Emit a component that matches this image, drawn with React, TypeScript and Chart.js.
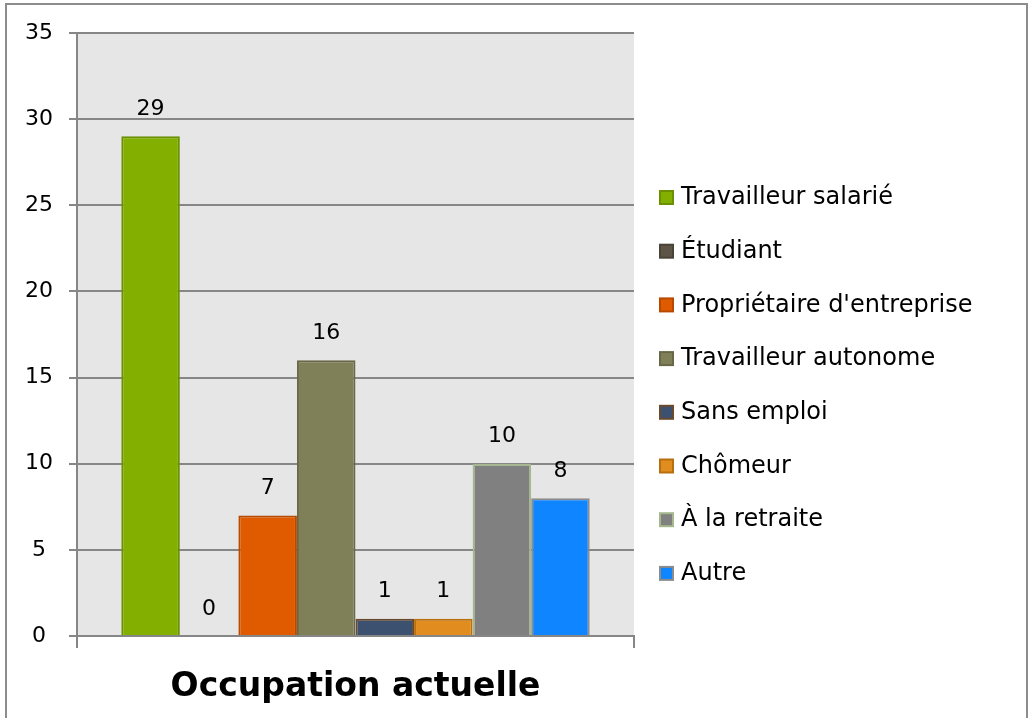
import React, { useEffect, useRef } from "react";
import { Chart, registerables } from "chart.js";

Chart.register(...registerables);

const categories = ["Occupation actuelle"];
const seriesNames = [
  "Travailleur salarié",
  "Étudiant",
  "Propriétaire d'entreprise",
  "Travailleur autonome",
  "Sans emploi",
  "Chômeur",
  "À la retraite",
  "Autre",
];
const seriesValues = [29, 0, 7, 16, 1, 1, 10, 8];
const fillColors = ["#83b000", "#5e5546", "#e05a00", "#808058", "#3c5070", "#e08c1e", "#808080", "#0f86ff"];
const borderColors = ["#6b9100", "#4a4338", "#b84a00", "#686848", "#6a4a2c", "#b8700f", "#a4b88c", "#8c8c8c"];
const yMin = 0;
const yMax = 35;
const yStep = 5;

const FONT = "'DejaVu Sans', sans-serif";
const GRID = "#868686";

const plotBg = {
  id: "plotBg",
  beforeDraw(chart: any) {
    const { ctx, chartArea } = chart;
    ctx.save();
    ctx.fillStyle = "#e6e6e6";
    ctx.fillRect(chartArea.left, chartArea.top, chartArea.right - chartArea.left, chartArea.bottom - chartArea.top);
    ctx.restore();
  },
};

const valueLabels = {
  id: "valueLabels",
  afterDatasetsDraw(chart: any) {
    const { ctx } = chart;
    ctx.save();
    ctx.font = `22px ${FONT}`;
    ctx.fillStyle = "#000";
    ctx.textAlign = "center";
    ctx.textBaseline = "middle";
    chart.data.datasets.forEach((ds: any, i: number) => {
      const meta = chart.getDatasetMeta(i);
      meta.data.forEach((bar: any, j: number) => {
        ctx.fillText(String(ds.data[j]), bar.x, bar.y - 27);
      });
    });
    ctx.restore();
  },
};

const sideLegend = {
  id: "sideLegend",
  afterDraw(chart: any) {
    const { ctx } = chart;
    ctx.save();
    ctx.font = `24px ${FONT}`;
    ctx.fillStyle = "#000";
    ctx.textAlign = "left";
    ctx.textBaseline = "middle";
    chart.data.datasets.forEach((ds: any, i: number) => {
      const cy = 198 + i * 53.7;
      ctx.fillStyle = ds.borderColor;
      ctx.fillRect(659, cy - 8, 15, 15);
      ctx.fillStyle = ds.backgroundColor;
      ctx.fillRect(661, cy - 6, 11, 11);
      ctx.fillStyle = "#000";
      ctx.fillText(ds.label, 681, cy);
    });
    // outer chart frame
    ctx.strokeStyle = "#8c8c8c";
    ctx.lineWidth = 2;
    ctx.strokeRect(6, 4, 1021, 740);
    ctx.restore();
  },
};

export default function App() {
  const ref = useRef<HTMLCanvasElement | null>(null);

  useEffect(() => {
    if (!ref.current) return;
    const chart = new Chart(ref.current, {
      type: "bar",
      data: {
        labels: categories,
        datasets: seriesNames.map((name, i) => ({
          label: name,
          data: [seriesValues[i]],
          backgroundColor: fillColors[i],
          borderColor: borderColors[i],
          borderWidth: 2,
          barPercentage: 1,
          categoryPercentage: 0.841,
        })),
      },
      options: {
        responsive: false,
        animation: false,
        layout: { padding: { left: 0, top: 33, right: 396, bottom: 0 } },
        plugins: {
          legend: { display: false },
          tooltip: { enabled: false },
        },
        scales: {
          x: {
            grid: {
              display: true,
              drawOnChartArea: false,
              drawTicks: true,
              tickLength: 12,
              offset: true,
              color: GRID,
              lineWidth: 2,
            },
            border: { display: true, color: GRID, width: 2 },
            ticks: {
              color: "#000",
              font: { family: FONT, size: 33, weight: "bold" },
              padding: 20,
            },
            afterFit(scale: any) {
              scale.height = 82;
            },
          },
          y: {
            min: yMin,
            max: yMax,
            grid: { color: GRID, lineWidth: 2, tickLength: 8 },
            border: { display: true, color: GRID, width: 2 },
            ticks: {
              stepSize: yStep,
              color: "#000",
              font: { family: FONT, size: 22 },
              padding: 16,
              crossAlign: "center",
            },
            afterFit(scale: any) {
              scale.width = 77;
            },
          },
        },
      },
      plugins: [plotBg, valueLabels, sideLegend],
    });
    return () => chart.destroy();
  }, []);

  return (
    <div style={{ position: "fixed", left: 0, top: 0, width: 1030, height: 718, background: "#fff" }}>
      <canvas ref={ref} width={1030} height={718} style={{ display: "block" }} />
    </div>
  );
}
